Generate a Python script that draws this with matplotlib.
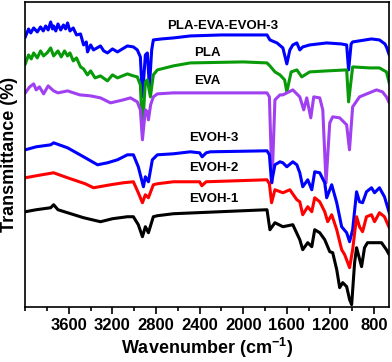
import matplotlib
matplotlib.use("Agg")
import matplotlib.pyplot as plt
from matplotlib.ticker import MultipleLocator

plt.rcParams['font.family'] = ['Liberation Sans', 'DejaVu Sans']
plt.rcParams['font.weight'] = 'bold'
plt.rcParams['mathtext.fontset'] = 'custom'
plt.rcParams['mathtext.rm'] = 'Liberation Sans:bold'
plt.rcParams['mathtext.bf'] = 'Liberation Sans:bold'
plt.rcParams['mathtext.default'] = 'bf'

# FTIR spectra (wavenumber in cm-1, transmittance in a.u. incl. offset)
blend_wn = [4000, 3970, 3950, 3923, 3890, 3860, 3835, 3813, 3790, 3767, 3750, 3740, 3720, 3700,
            3675, 3650, 3630, 3612, 3590, 3560, 3530, 3493, 3465, 3440, 3429, 3400, 3374,
            3310, 3280, 3246, 3200, 3154, 3063, 3008, 2972, 2944, 2925, 2898, 2880, 2861, 2840, 2825,
            2750, 2642, 2486, 2200, 1900, 1782, 1755, 1690, 1636, 1600, 1572, 1545, 1508, 1481,
            1454, 1390, 1234, 1100, 1051, 1033, 1010, 996, 823, 750, 700, 686, 660]
blend_t = [270, 278, 274, 279, 275, 280, 276, 281, 277, 285, 278, 281, 276, 283,
           277, 282, 278, 284, 276, 279, 272, 273, 262, 265, 255, 262, 257,
           261, 256, 254, 258, 255, 261, 260, 257, 250, 210, 252, 254, 220, 257, 267,
           268, 269, 271, 272, 272, 272, 267, 264, 259, 243, 257, 262, 264, 257,
           260, 262, 264, 263, 262, 237, 263, 265, 268, 267, 263, 260, 252]

pla_wn = [4000, 3970, 3945, 3923, 3890, 3860, 3832, 3800, 3767, 3740, 3700, 3670, 3640, 3612,
          3590, 3560, 3530, 3493, 3465, 3430, 3400, 3360, 3310, 3246, 3200, 3154, 3063,
          3008, 2972, 2944, 2925, 2898, 2880, 2852, 2825, 2788, 2642, 2486, 2000, 1782, 1755,
          1709, 1663, 1620, 1600, 1560, 1508, 1463, 1390, 1234, 1051, 1033, 996, 841, 750,
          686, 660]
pla_t = [243, 252, 248, 254, 249, 256, 251, 254, 259, 251, 256, 250, 256, 251,
         254, 246, 249, 240, 238, 232, 236, 229, 231, 226, 232, 229, 233,
         231, 230, 222, 177, 225, 227, 210, 232, 237, 241, 244, 245, 244, 241,
         235, 232, 227, 215, 235, 237, 230, 235, 236, 237, 205, 240, 239, 239,
         235, 224]

eva_wn = [4000, 3960, 3923, 3900, 3870, 3832, 3790, 3740, 3700, 3612, 3500, 3400, 3310, 3218,
          3100, 3035, 2972, 2944, 2925, 2898, 2880, 2870, 2850, 2825, 2788, 2642, 2000, 1782,
          1760, 1736, 1709, 1663, 1636, 1545, 1481, 1445, 1417, 1380, 1353, 1298, 1270, 1240,
          1206, 1179, 1115, 1051, 1025, 996, 933, 777, 722, 686, 660]
eva_t = [214, 220, 223, 217, 220, 213, 221, 216, 214, 216, 212, 211, 209, 204,
         207, 209, 205, 197, 167, 197, 195, 187, 202, 210, 213, 214, 214, 214,
         210, 124, 207, 212, 212, 217, 210, 197, 209, 189, 210, 209, 197, 124,
         184, 190, 189, 182, 157, 200, 210, 217, 215, 210, 204]

evoh3_wn = [4000, 3900, 3767, 3740, 3612, 3465, 3337, 3246, 3154, 3063, 3008, 2963, 2916, 2898,
            2870, 2834, 2788, 2642, 2486, 2400, 2377, 2340, 2303, 1782, 1760, 1740, 1709, 1663,
            1636, 1600, 1545, 1508, 1481, 1454, 1408, 1371, 1344, 1298, 1252, 1234, 1188, 1142,
            1097, 1051, 1024, 996, 960, 933, 905, 869, 823, 795, 750, 704, 660]
evoh3_t = [157, 160, 162, 164, 159, 150, 142, 144, 147, 152, 152, 140, 120, 130,
           125, 147, 152, 153, 155, 154, 150, 154, 155, 156, 152, 124, 142, 145,
           144, 140, 145, 142, 134, 120, 127, 117, 135, 134, 124, 109, 122, 104,
           80, 74, 65, 77, 115, 105, 104, 115, 119, 114, 119, 110, 94]

evoh2_wn = [4000, 3900, 3740, 3612, 3450, 3374, 3218, 3100, 3008, 2963, 2925, 2898, 2870, 2825,
            2788, 2642, 2400, 2380, 2340, 1782, 1760, 1740, 1709, 1636, 1572, 1508, 1481, 1454,
            1408, 1371, 1344, 1298, 1252, 1225, 1188, 1142, 1097, 1069, 1024, 996, 960, 933,
            905, 869, 823, 795, 750, 704, 660]
evoh2_t = [129, 131, 134, 129, 123, 119, 122, 124, 125, 114, 104, 112, 109, 122,
           123, 125, 125, 121, 125, 127, 123, 104, 117, 114, 117, 107, 105, 92,
           100, 95, 109, 105, 95, 85, 92, 77, 57, 52, 39, 57, 90, 80,
           75, 90, 92, 85, 94, 90, 79]

evoh1_wn = [4000, 3900, 3767, 3740, 3700, 3612, 3465, 3310, 3200, 3063, 3008, 2963, 2925, 2898,
            2870, 2825, 2788, 2642, 2000, 1782, 1755, 1709, 1636, 1545, 1481, 1454, 1408, 1371,
            1344, 1298, 1252, 1206, 1179, 1142, 1115, 1087, 1051, 1024, 1005, 978, 960, 914,
            887, 860, 777, 731, 686, 660]
evoh1_t = [95, 97, 99, 102, 97, 94, 89, 85, 88, 90, 90, 82, 70, 80,
           74, 90, 91, 93, 96, 97, 77, 84, 80, 82, 67, 57, 64, 60,
           77, 74, 67, 55, 54, 37, 19, 24, 20, 7, 2, 44, 59, 40,
           59, 64, 64, 64, 57, 52]

xticks = [3600, 3200, 2800, 2400, 2000, 1600, 1200, 800]

series = [
    (blend_wn, blend_t, '#0000FF', 'PLA-EVA-EVOH-3', 2184, 281),
    (pla_wn, pla_t, '#089A08', 'PLA', 2330, 254),
    (eva_wn, eva_t, '#A040F0', 'EVA', 2330, 226),
    (evoh3_wn, evoh3_t, '#0000FF', 'EVOH-3', 2266, 169),
    (evoh2_wn, evoh2_t, '#FF0000', 'EVOH-2', 2266, 139),
    (evoh1_wn, evoh1_t, '#000000', 'EVOH-1', 2266, 108),
]

fig = plt.figure(figsize=(3.92, 3.62), dpi=100)
ax = fig.add_axes([0.0645, 0.153, 0.9285, 0.8415])

for wn, t, color, name, lx, ly in series:
    ax.plot(wn, t, color=color, lw=2.2)
    ax.text(lx, ly, name, ha='center', va='center', fontsize=9.5,
            fontweight='bold', color='black')

ax.set_xlim(4000, 660)
ax.set_ylim(0, 305)
ax.set_xticks(xticks)
ax.xaxis.set_minor_locator(MultipleLocator(200))
ax.set_yticks([])
ax.tick_params(axis='x', which='major', direction='out', length=5, width=1.2,
               labelsize=12, pad=3)
ax.tick_params(axis='x', which='minor', direction='out', length=3, width=1.2)
for sp in ax.spines.values():
    sp.set_linewidth(1.2)

ax.set_xlabel('Wavenumber (cm$^{-1}$)', fontsize=13, fontweight='bold', labelpad=2)
ax.set_ylabel('Transmittance (%)', fontsize=13, fontweight='bold', labelpad=5)

fig.savefig('out.png', dpi=100)
